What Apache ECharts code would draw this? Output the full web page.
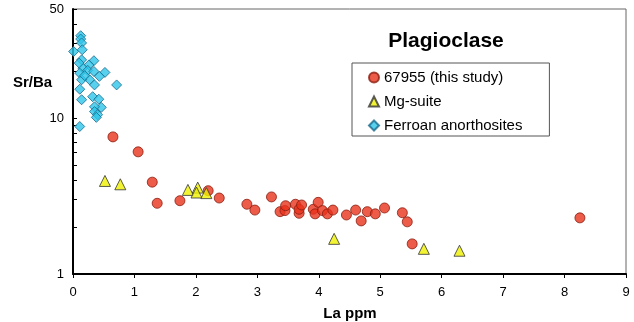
<!DOCTYPE html>
<html><head><meta charset="utf-8">
<script src="https://cdn.jsdelivr.net/npm/echarts@6/dist/echarts.min.js"></script>
<style>html,body{margin:0;padding:0;background:#fff}#c{width:634px;height:322px}</style>
</head><body><div id="c"></div>
<script>
// 67955 (this study): [La ppm, Sr/Ba]
const study67955 = [
  [0.65,7.57],[1.06,6.07],[1.29,3.88],[1.37,2.84],[1.74,2.95],[2.20,3.42],[2.38,3.07],
  [2.83,2.80],[2.96,2.57],[3.23,3.12],[3.37,2.51],[3.45,2.55],[3.46,2.74],[3.62,2.80],
  [3.68,2.45],[3.68,2.60],[3.72,2.77],[3.91,2.60],[3.94,2.43],[3.99,2.88],[4.06,2.55],
  [4.14,2.43],[4.23,2.57],[4.45,2.39],[4.60,2.57],[4.69,2.19],[4.79,2.51],[4.92,2.43],
  [5.07,2.65],[5.36,2.47],[5.44,2.16],[5.52,1.56],[8.25,2.29]
];
const mgSuite = [
  [0.52,3.95],[0.77,3.76],[1.87,3.46],[2.03,3.58],[2.01,3.33],[2.17,3.30],
  [4.25,1.68],[5.71,1.45],[6.29,1.41]
];
const ferroanAnorthosites = [
  [0.125,33.7],[0.125,32.1],[0.14,30.3],[0.01,26.7],[0.15,27.4],[0.14,23.6],[0.34,23.3],
  [0.26,21.9],[0.16,20.9],[0.24,20.2],[0.34,19.9],[0.52,19.6],[0.11,19.4],[0.43,18.5],
  [0.27,17.6],[0.14,17.6],[0.71,16.3],[0.35,16.3],[0.11,15.3],[0.32,13.7],[0.14,13.1],
  [0.42,13.2],[0.46,11.7],[0.35,11.8],[0.35,11.0],[0.40,10.5],[0.38,10.1],[0.11,8.82],
  [0.19,18.7],[0.10,22.5]
];
const seriesNames = ['67955 (this study)','Mg-suite','Ferroan anorthosites'];
const yTickValues = [1,2,3,4,5,6,7,8,9,10,20,30,40,50];
const yLabelValues = [1,10,50];

const FONT = 'Liberation Sans, Arial, sans-serif';
const chart = echarts.init(document.getElementById('c'), null, {renderer:'canvas'});
chart.setOption({
  animation: false,
  backgroundColor: '#fff',
  title: [
    {text:'Plagioclase', left:446, top:31, padding:0, textAlign:'center',
     textStyle:{fontFamily:FONT, fontSize:21, fontWeight:'bold', color:'#000'}},
    {text:'Sr/Ba', left:13, top:75, padding:0,
     textStyle:{fontFamily:FONT, fontSize:15, fontWeight:'bold', color:'#000'}},
    {text:'La ppm', left:350, top:306, padding:0, textAlign:'center',
     textStyle:{fontFamily:FONT, fontSize:15, fontWeight:'bold', color:'#000'}}
  ],
  legend: {
    orient:'vertical', left:352, top:63,
    data: seriesNames,
    borderColor:'#555', borderWidth:1, backgroundColor:'#fff',
    padding:[7,27,3,16], itemGap:9, itemWidth:10, itemHeight:10,
    textStyle:{fontFamily:FONT, fontSize:15, color:'#000'}
  },
  grid: {left:73, right:8, top:9, bottom:48, show:true, borderColor:'#666', borderWidth:1},
  xAxis: {
    type:'value', min:0, max:9, interval:1,
    axisLine:{show:true, lineStyle:{color:'#000', width:2}},
    axisTick:{show:true, inside:false, length:4, lineStyle:{color:'#000'}},
    axisLabel:{fontFamily:FONT, fontSize:13, color:'#000', margin:12},
    splitLine:{show:false}
  },
  yAxis: {
    type:'log', logBase:10, min:1, max:50,
    axisLine:{show:true, lineStyle:{color:'#000', width:2}},
    axisTick:{show:true, inside:true, length:4, customValues:yTickValues, lineStyle:{color:'#000'}},
    axisLabel:{fontFamily:FONT, fontSize:13, color:'#000', margin:9, customValues:yLabelValues},
    splitLine:{show:false}
  },
  series: [
    {name:seriesNames[0], type:'scatter', data:study67955, symbol:'circle', symbolSize:10,
     itemStyle:{color:'#e8321c', borderColor:'#8a1e10', borderWidth:1}},
    {name:seriesNames[1], type:'scatter', data:mgSuite, symbol:'triangle', symbolSize:11,
     itemStyle:{color:'#eef000', borderColor:'#333', borderWidth:1}},
    {name:seriesNames[2], type:'scatter', data:ferroanAnorthosites, symbol:'diamond', symbolSize:10,
     itemStyle:{color:'#2ec6ea', borderColor:'#1a6a8c', borderWidth:1}}
  ]
});
</script></body></html>
